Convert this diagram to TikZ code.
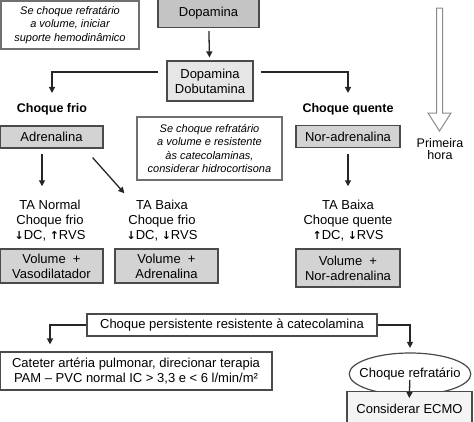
\documentclass[tikz,border=0pt]{standalone}
\usepackage{fontspec}
\setmainfont{Liberation Sans}
\newfontfamily\arrowfont{DejaVu Sans}
\newcommand{\dn}{{\arrowfont\bfseries\fontsize{11}{15}\selectfont ↓}}
\newcommand{\upa}{{\arrowfont\bfseries\fontsize{11}{15}\selectfont ↑}}
\usetikzlibrary{shapes,arrows.meta}

\begin{document}
\begin{tikzpicture}[x=1pt,y=-1pt,
	every node/.style={font=\fontsize{13}{15}\selectfont},
	box/.style={draw=boxline,line width=1.2pt,inner sep=0pt,align=center},
	greybox/.style={box,fill=boxfill},
	notebox/.style={box,draw=noteline,fill=white,font=\fontsize{11}{13.5}\selectfont\itshape},
	txt/.style={inner sep=0pt,align=center},
	title/.style={txt,font=\fontsize{12.5}{15}\selectfont\bfseries},
	arr/.style={line width=1.3pt,draw=black!85,-{Triangle[length=6pt,width=6pt]}}]
					\definecolor{boxline}{HTML}{4A4A4A}
					\definecolor{noteline}{HTML}{707070}
					\definecolor{boxfill}{HTML}{D3D3D3}
					\definecolor{darkfill}{HTML}{C4C4C4}
					\definecolor{lightfill}{HTML}{E6E6E6}
					\definecolor{ecmofill}{HTML}{F4F4F4}
					\definecolor{hollow}{HTML}{8A8A8A}
					\useasboundingbox (0,0) rectangle (474,421);
					% top row
					\node[notebox,minimum width=138pt,minimum height=48pt] (refvol) at (70,25) {Se choque refratário\\a volume, iniciar\\suporte hemodinâmico};
					\node[greybox,fill=darkfill,minimum width=101pt,minimum height=29pt] (dopa) at (208.5,13) {Dopamina};
					\node[greybox,fill=lightfill,minimum width=86pt,minimum height=40pt] (dobuta) at (210,81) {Dopamina\\Dobutamina};
					\node[title] (frio) at (52,109) {Choque frio};
					\node[title] (quente) at (348,109) {Choque quente};
					% drugs
					\node[greybox,minimum width=103pt,minimum height=22pt] (adr) at (51.5,137) {Adrenalina};
					\node[greybox,minimum width=104pt,minimum height=22pt] (nor) at (348,136.5) {Nor-adrenalina};
					\node[notebox,minimum width=145pt,minimum height=63pt] (hidro) at (209.5,148.5) {Se choque refratário\\a volume e resistente\\às catecolaminas,\\considerar hidrocortisona};
					% states
					\node[txt] (tan) at (50,221) {TA Normal\\Choque frio\\\dn DC, \upa RVS};
					\node[txt] (tab) at (162,221) {TA Baixa\\Choque frio\\\dn DC, \dn RVS};
					\node[txt] (taq) at (348,221) {TA Baixa\\Choque quente\\\upa DC, \dn RVS};
					\node[greybox,minimum width=103pt,minimum height=34pt] (vvaso) at (51.5,266) {Volume \ +\\Vasodilatador};
					\node[greybox,minimum width=103pt,minimum height=34pt] (vadr) at (166.5,266) {Volume \ +\\Adrenalina};
					\node[greybox,minimum width=104pt,minimum height=38pt] (vnor) at (348,268) {Volume \ +\\Nor-adrenalina};
					% bottom
					\node[box,fill=white,minimum width=290pt,minimum height=22pt] (persist) at (232,325) {Choque persistente resistente à catecolamina};
					\node[box,fill=white,minimum width=272pt,minimum height=38pt] (cat) at (136,371) {Cateter artéria pulmonar, direcionar terapia\\PAM – PVC normal IC > 3,3 e < 6 l/min/m²};
					\node[ellipse,draw=boxline,line width=1.2pt,fill=white,inner xsep=-7.6pt,inner ysep=0pt,minimum height=42pt] (refr) at (410,374) {Choque refratário};
					\node[box,fill=ecmofill,minimum width=125pt,minimum height=34pt,anchor=north] (ecmo) at (409.5,391) {Considerar ECMO};
					% time arrow
					\draw[draw=hollow,line width=1pt,fill=white] (436.5,8) -- (442.5,8) -- (442.5,113) -- (451,113) -- (439.5,131) -- (428,113) -- (436.5,113) -- cycle;
					\node[txt,font=\fontsize{12.5}{12.5}\selectfont] (hora) at (440,149) {Primeira\\hora};
					% connectors
					\draw[arr,shorten <=3pt,shorten >=3pt] (dopa) -- (dobuta);
					\draw[arr,shorten <=8pt,shorten >=10pt] ([yshift=9pt]dobuta.west) -| (frio.north);
					\draw[arr,shorten <=7pt,shorten >=10pt] ([yshift=9pt]dobuta.east) -| (quente.north);
					\draw[arr,shorten <=5pt,shorten >=14pt] ([xshift=-9.5pt]adr.south) -- ([xshift=-9.5pt]adr.south |- tan.north);
					\draw[arr] ([xshift=-11pt,yshift=-9pt]adr.south east) -- ([xshift=-2pt,yshift=7pt]tab.north west);
					\draw[arr,shorten <=6pt,shorten >=14pt] (nor.south) -- (taq.north);
					\draw[arr,shorten >=7pt] (persist.west) -| ([xshift=-86pt]cat.north);
					\draw[arr,shorten >=4.5pt] (persist.east) -| (refr.north);
					\draw[arr,shorten <=6pt,shorten >=-7pt] (refr.center) -- (ecmo.north);
				\end{tikzpicture}
\end{document}
